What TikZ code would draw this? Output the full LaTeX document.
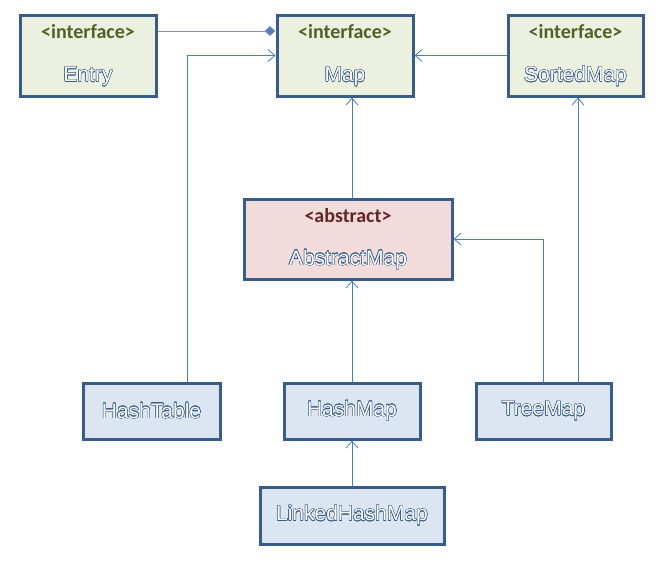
\documentclass[tikz,border=0pt]{standalone}
\usepackage{fontspec}
\setmainfont{Liberation Sans}
\newfontfamily\stereofont{Carlito}
\usepackage{contour}
\usetikzlibrary{arrows.meta,positioning,calc}
\definecolor{umlborder}{HTML}{385D8A}
\definecolor{umlgreen}{HTML}{EBF1DE}
\definecolor{umlpink}{HTML}{F2DCDB}
\definecolor{umlblue}{HTML}{DCE6F2}
\definecolor{umlolive}{HTML}{4F6228}
\definecolor{umlred}{HTML}{632523}
\definecolor{umlline}{HTML}{4A7EBB}
\definecolor{umlviolet}{HTML}{8C8CCC}
\contourlength{0.45pt}
\newcommand{\cname}[1]{\contour{umlborder}{\textcolor{white}{#1}}}
\newcommand{\stereo}[2]{{\stereofont\bfseries\color{#1}\fontsize{20}{22}\selectfont <#2>}}
\tikzset{
  ifacebox/.style={
    draw=umlborder,
    fill=umlgreen,
    line width=3pt,
    minimum width=136pt,
    minimum height=81pt,
    align=center,
    font=\fontsize{21}{24}\selectfont
  },
  absbox/.style={
    ifacebox,
    fill=umlpink,
    minimum width=208pt,
    minimum height=80pt
  },
  classbox/.style={
    ifacebox,
    fill=umlblue,
    minimum height=56pt
  },
  inherit/.style={
    -{Straight Barb[length=7pt,width=12pt]},
    draw=umlline,
    line width=0.8pt
  },
  compose/.style={
    -{Diamond[length=11pt,width=10pt,fill=umlline]},
    draw=umlviolet,
    line width=0.8pt
  }
}
\begin{document}
\begin{tikzpicture}[x=1pt,y=-1pt]
\useasboundingbox (0,0) rectangle (672,568);
% interfaces
\node[ifacebox] (entry) at (88,55.5) {\stereo{umlolive}{interface}\\[19pt]\cname{Entry}};
\node[ifacebox] (map) at (345,55.5) {\stereo{umlolive}{interface}\\[19pt]\cname{Map}};
\node[ifacebox, minimum width=135pt] (sorted) at (575.5,55.5) {\stereo{umlolive}{interface}\\[19pt]\cname{SortedMap}};
% abstract class
\node[absbox] (abstract) at (348,239) {\stereo{umlred}{abstract}\\[19pt]\cname{AbstractMap}};
% concrete classes
\node[classbox, minimum width=137pt] (hashtable) at (151.5,411) {\cname{HashTable}};
\node[classbox] (hashmap) at (352,411) {\cname{HashMap}};
\node[classbox, minimum width=135pt] (treemap) at (543.5,411) {\cname{TreeMap}};
\node[classbox, minimum width=184pt, minimum height=57pt] (linked) at (352,515.5) {\cname{LinkedHashMap}};
% connectors
\coordinate (tablefoot) at ([xshift=35.5pt]hashtable.north);
\coordinate (treefoot) at ([xshift=34.5pt]treemap.north);
\draw[compose] ([yshift=24.5pt]entry.east) -- ([yshift=24.5pt]map.west);
\draw[inherit] (sorted.west) -- (map.east);
\draw[inherit] (tablefoot) |- (map.west);
\draw[inherit] (abstract.north -| hashmap.north) -- (map.south -| hashmap.north);
\draw[inherit] (hashmap.north) -- (abstract.south -| hashmap.north);
\draw[inherit] (treemap.north) |- (abstract.east);
\draw[inherit] (treefoot) -- (sorted.south -| treefoot);
\draw[inherit] (linked.north) -- (hashmap.south);
\end{tikzpicture}
\end{document}
